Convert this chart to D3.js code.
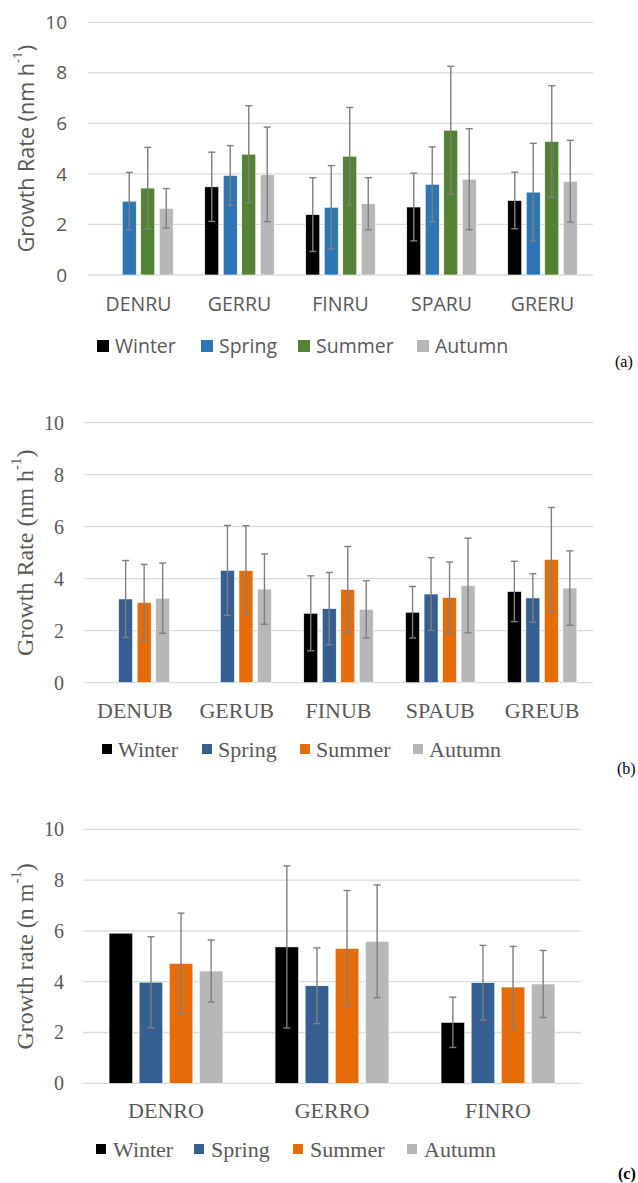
<!DOCTYPE html>
<html>
<head>
<meta charset="utf-8">
<script src="https://cdn.jsdelivr.net/npm/d3@7"></script>
<style>
  html, body { margin: 0; padding: 0; background: #fff; }
  svg { display: block; }
</style>
</head>
<body>
<svg id="chart" width="638" height="1183"></svg>
<script>
// ---------- DATA ----------
const seasons = ["Winter", "Spring", "Summer", "Autumn"];

// Panel (a)
const catsA = ["DENRU", "GERRU", "FINRU", "SPARU", "GRERU"];
const winterA = [null, 3.49, 2.39, 2.69, 2.95];
const springA = [2.92, 3.94, 2.68, 3.59, 3.28];
const summerA = [3.44, 4.78, 4.70, 5.73, 5.28];
const autumnA = [2.64, 3.98, 2.82, 3.79, 3.71];
const winterErrA = [null, 1.37, 1.46, 1.34, 1.12];
const springErrA = [1.14, 1.18, 1.65, 1.48, 1.93];
const summerErrA = [1.61, 1.92, 1.93, 2.53, 2.21];
const autumnErrA = [0.78, 1.87, 1.03, 2.00, 1.62];

// Panel (b)
const catsB = ["DENUB", "GERUB", "FINUB", "SPAUB", "GREUB"];
const winterB = [null, null, 2.67, 2.71, 3.51];
const springB = [3.22, 4.32, 2.85, 3.41, 3.26];
const summerB = [3.09, 4.32, 3.59, 3.28, 4.74];
const autumnB = [3.25, 3.60, 2.82, 3.74, 3.64];
const winterErrB = [null, null, 1.44, 0.99, 1.16];
const springErrB = [1.48, 1.73, 1.39, 1.40, 0.93];
const summerErrB = [1.46, 1.72, 1.65, 1.36, 2.00];
const autumnErrB = [1.35, 1.35, 1.10, 1.82, 1.43];

// Panel (c)
const catsC = ["DENRO", "GERRO", "FINRO"];
const winterC = [5.91, 5.37, 2.40];
const springC = [3.98, 3.84, 3.96];
const summerC = [4.72, 5.31, 3.79];
const autumnC = [4.42, 5.59, 3.91];
const winterErrC = [null, 3.19, 0.99];
const springErrC = [1.79, 1.49, 1.47];
const summerErrC = [1.98, 2.28, 1.60];
const autumnErrC = [1.22, 2.22, 1.32];

const yTicks = [0, 2, 4, 6, 8, 10];

// ---------- DRAW ----------
const svg = d3.select("#chart");

function panel(cfg) {
  const g = svg.append("g");
  const x0 = d3.scaleBand().domain(cfg.cats).range([cfg.left, cfg.right]).padding(0);
  const x1 = d3.scaleBand().domain(seasons)
    .range([-cfg.groupW / 2, cfg.groupW / 2])
    .paddingInner(cfg.pad).paddingOuter(cfg.pad / 2);
  const y = d3.scaleLinear().domain([0, 10]).range([cfg.bottom, cfg.top]);

  // gridlines
  g.selectAll("line.grid").data(yTicks).enter().append("line")
    .attr("x1", cfg.left).attr("x2", cfg.right)
    .attr("y1", d => y(d)).attr("y2", d => y(d))
    .attr("stroke", "#d9d9d9").attr("stroke-width", 1.3);

  // y axis labels
  const yAxis = d3.axisLeft(y).tickValues(yTicks).tickSize(0).tickPadding(cfg.tickPad);
  const ya = g.append("g").attr("transform", `translate(${cfg.left},0)`).call(yAxis);
  ya.select(".domain").remove();
  ya.selectAll("text").attr("font-family", cfg.font).attr("font-size", cfg.tickSize)
    .attr("fill", "#595959");

  // x axis labels
  const xAxis = d3.axisBottom(x0).tickSize(0).tickPadding(0);
  const xa = g.append("g").attr("transform", `translate(0,${cfg.catY})`).call(xAxis);
  xa.select(".domain").remove();
  xa.selectAll("text").attr("font-family", cfg.font).attr("font-size", cfg.catSize)
    .attr("fill", "#595959").attr("dy", "0.35em");

  // bars
  cfg.series.forEach((s, si) => {
    const key = seasons[si];
    const data = cfg.cats.map((c, i) => ({ c, v: s.vals[i], e: s.errs[i] }));
    const gs = g.append("g");
    gs.selectAll("rect").data(data.filter(d => d.v != null)).enter().append("rect")
      .attr("x", d => x0(d.c) + x0.bandwidth() / 2 + x1(key))
      .attr("width", x1.bandwidth())
      .attr("y", d => y(d.v))
      .attr("height", d => y(0) - y(d.v))
      .attr("fill", cfg.colors[si])
      .attr("stroke", "#ffffff").attr("stroke-width", 0.6);
    // error bars
    const eb = data.filter(d => d.v != null && d.e != null);
    const cx = d => x0(d.c) + x0.bandwidth() / 2 + x1(key) + x1.bandwidth() / 2;
    gs.selectAll("line.ev").data(eb).enter().append("line")
      .attr("x1", cx).attr("x2", cx)
      .attr("y1", d => y(d.v + d.e)).attr("y2", d => y(d.v - d.e))
      .attr("stroke", "#7f7f7f").attr("stroke-width", 1.4);
    [1, -1].forEach(sign => {
      gs.selectAll("line.cap" + sign).data(eb).enter().append("line")
        .attr("x1", d => cx(d) - 3.5).attr("x2", d => cx(d) + 3.5)
        .attr("y1", d => y(d.v + sign * d.e)).attr("y2", d => y(d.v + sign * d.e))
        .attr("stroke", "#7f7f7f").attr("stroke-width", 1.4);
    });
  });

  // y title
  const yt = g.append("text")
    .attr("transform", `translate(${cfg.titleX},${(y(0) + y(10)) / 2}) rotate(-90)`)
    .attr("text-anchor", "middle").attr("dominant-baseline", "central")
    .attr("font-family", cfg.font).attr("font-size", cfg.titleSize).attr("fill", "#595959");
  yt.append("tspan").text(cfg.title[0]);
  yt.append("tspan").attr("font-size", cfg.titleSize * 0.62).attr("dy", -cfg.titleSize * 0.38).text(cfg.title[1]);
  yt.append("tspan").attr("dy", cfg.titleSize * 0.38).text(cfg.title[2]);

  // legend
  const lg = g.append("g");
  seasons.forEach((s, i) => {
    lg.append("rect").attr("x", cfg.legX[i]).attr("y", cfg.legY - cfg.sq / 2)
      .attr("width", cfg.sq).attr("height", cfg.sq).attr("fill", cfg.colors[i]);
    lg.append("text").attr("x", cfg.legX[i] + cfg.sq + cfg.legGap).attr("y", cfg.legY)
      .attr("dy", "0.35em")
      .attr("font-family", cfg.font).attr("font-size", cfg.legSize).attr("fill", "#595959")
      .text(s);
  });

  // panel tag
  g.append("text").attr("x", cfg.tagX).attr("y", cfg.tagY).attr("dy", "0.35em")
    .attr("font-family", "Liberation Serif, Times New Roman, serif")
    .attr("font-size", 16).attr("font-weight", cfg.tagBold ? "bold" : "normal")
    .attr("fill", "#000").text(cfg.tag);
}

const sans = "Open Sans, sans-serif";
const serif = "Liberation Serif, Times New Roman, serif";

panel({
  cats: catsA, left: 88, right: 593, top: 22.3, bottom: 275,
  groupW: 74, pad: 0.243,
  series: [
    { vals: winterA, errs: winterErrA }, { vals: springA, errs: springErrA },
    { vals: summerA, errs: summerErrA }, { vals: autumnA, errs: autumnErrA }],
  colors: ["#000000", "#2e75b6", "#548235", "#b7b7b7"],
  font: sans, tickSize: 19, tickPad: 21, catSize: 19.5, catY: 304,
  title: ["Growth Rate (nm h", "-1", ")"], titleX: 25, titleSize: 21.5,
  legX: [97, 201, 298, 417], legY: 346, sq: 12, legGap: 6, legSize: 19.5,
  tag: "(a)", tagX: 615, tagY: 361, tagBold: false
});

panel({
  cats: catsB, left: 84, right: 593, top: 422.7, bottom: 682.7,
  groupW: 74, pad: 0.243,
  series: [
    { vals: winterB, errs: winterErrB }, { vals: springB, errs: springErrB },
    { vals: summerB, errs: summerErrB }, { vals: autumnB, errs: autumnErrB }],
  colors: ["#000000", "#355f91", "#e46c0a", "#b7b7b7"],
  font: serif, tickSize: 20, tickPad: 20, catSize: 22, catY: 710,
  title: ["Growth Rate (nm h", "-1", ")"], titleX: 25, titleSize: 24,
  legX: [102, 202, 300, 413], legY: 749, sq: 10, legGap: 6, legSize: 22,
  tag: "(b)", tagX: 617, tagY: 768, tagBold: false
});

panel({
  cats: catsC, left: 83, right: 581, top: 829.3, bottom: 1083.3,
  groupW: 120.4, pad: 0.216,
  series: [
    { vals: winterC, errs: winterErrC }, { vals: springC, errs: springErrC },
    { vals: summerC, errs: summerErrC }, { vals: autumnC, errs: autumnErrC }],
  colors: ["#000000", "#355f91", "#e46c0a", "#b7b7b7"],
  font: serif, tickSize: 20, tickPad: 19, catSize: 22, catY: 1110,
  title: ["Growth rate (n m", "-1", ")"], titleX: 25, titleSize: 24,
  legX: [96, 194, 293, 407], legY: 1149, sq: 10, legGap: 7, legSize: 22,
  tag: "(c)", tagX: 618, tagY: 1173, tagBold: true
});
</script>
</body>
</html>
